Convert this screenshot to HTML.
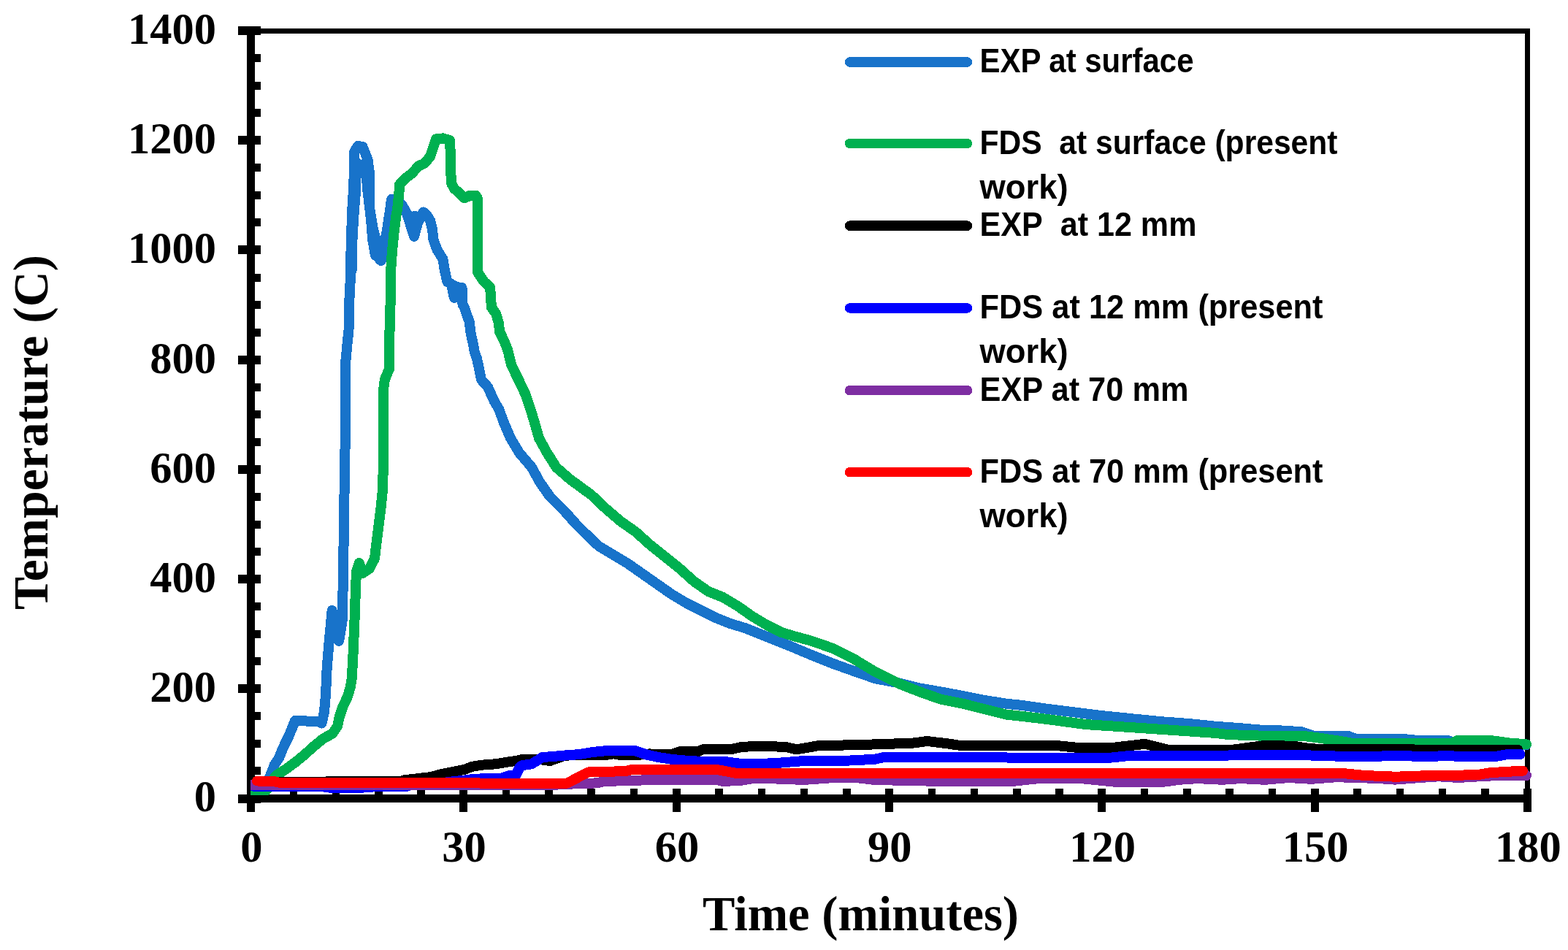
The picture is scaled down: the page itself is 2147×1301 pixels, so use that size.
<!DOCTYPE html>
<html><head><meta charset="utf-8"><title>Temperature vs Time</title>
<style>html,body{margin:0;padding:0;background:#fff;overflow:hidden}svg{display:block}</style>
</head><body>
<svg width="2147" height="1301" viewBox="0 0 2147 1301" shape-rendering="crispEdges">
<defs><clipPath id="pa"><rect x="343" y="0" width="1804" height="1301"/></clipPath></defs>
<rect width="2147" height="1301" fill="#fff"/>
<rect x="343" y="39" width="1752" height="7" fill="#000"/>
<rect x="2088" y="39" width="7" height="1056" fill="#000"/>
<rect x="338" y="36" width="11" height="1063" fill="#000"/>
<rect x="326" y="1088" width="1771" height="11" fill="#000"/>
<rect x="326" y="1087.5" width="31" height="12" fill="#000"/>
<rect x="349" y="1050.4" width="8" height="11" fill="#000"/>
<rect x="349" y="1012.9" width="8" height="11" fill="#000"/>
<rect x="349" y="975.3" width="8" height="11" fill="#000"/>
<rect x="326" y="937.3" width="31" height="12" fill="#000"/>
<rect x="349" y="900.2" width="8" height="11" fill="#000"/>
<rect x="349" y="862.7" width="8" height="11" fill="#000"/>
<rect x="349" y="825.1" width="8" height="11" fill="#000"/>
<rect x="326" y="787.1" width="31" height="12" fill="#000"/>
<rect x="349" y="750.0" width="8" height="11" fill="#000"/>
<rect x="349" y="712.5" width="8" height="11" fill="#000"/>
<rect x="349" y="674.9" width="8" height="11" fill="#000"/>
<rect x="326" y="636.9" width="31" height="12" fill="#000"/>
<rect x="349" y="599.8" width="8" height="11" fill="#000"/>
<rect x="349" y="562.2" width="8" height="11" fill="#000"/>
<rect x="349" y="524.7" width="8" height="11" fill="#000"/>
<rect x="326" y="486.6" width="31" height="12" fill="#000"/>
<rect x="349" y="449.6" width="8" height="11" fill="#000"/>
<rect x="349" y="412.0" width="8" height="11" fill="#000"/>
<rect x="349" y="374.5" width="8" height="11" fill="#000"/>
<rect x="326" y="336.4" width="31" height="12" fill="#000"/>
<rect x="349" y="299.4" width="8" height="11" fill="#000"/>
<rect x="349" y="261.8" width="8" height="11" fill="#000"/>
<rect x="349" y="224.3" width="8" height="11" fill="#000"/>
<rect x="326" y="186.2" width="31" height="12" fill="#000"/>
<rect x="349" y="149.2" width="8" height="11" fill="#000"/>
<rect x="349" y="111.6" width="8" height="11" fill="#000"/>
<rect x="349" y="74.1" width="8" height="11" fill="#000"/>
<rect x="326" y="36.0" width="31" height="12" fill="#000"/>
<rect x="338.0" y="1080" width="11" height="32" fill="#000"/>
<rect x="396.5" y="1080" width="10.5" height="9" fill="#000"/>
<rect x="454.8" y="1080" width="10.5" height="9" fill="#000"/>
<rect x="513.0" y="1080" width="10.5" height="9" fill="#000"/>
<rect x="571.3" y="1080" width="10.5" height="9" fill="#000"/>
<rect x="629.3" y="1080" width="11" height="32" fill="#000"/>
<rect x="687.9" y="1080" width="10.5" height="9" fill="#000"/>
<rect x="746.1" y="1080" width="10.5" height="9" fill="#000"/>
<rect x="804.4" y="1080" width="10.5" height="9" fill="#000"/>
<rect x="862.6" y="1080" width="10.5" height="9" fill="#000"/>
<rect x="920.7" y="1080" width="11" height="32" fill="#000"/>
<rect x="979.2" y="1080" width="10.5" height="9" fill="#000"/>
<rect x="1037.5" y="1080" width="10.5" height="9" fill="#000"/>
<rect x="1095.7" y="1080" width="10.5" height="9" fill="#000"/>
<rect x="1154.0" y="1080" width="10.5" height="9" fill="#000"/>
<rect x="1212.0" y="1080" width="11" height="32" fill="#000"/>
<rect x="1270.5" y="1080" width="10.5" height="9" fill="#000"/>
<rect x="1328.8" y="1080" width="10.5" height="9" fill="#000"/>
<rect x="1387.0" y="1080" width="10.5" height="9" fill="#000"/>
<rect x="1445.3" y="1080" width="10.5" height="9" fill="#000"/>
<rect x="1503.3" y="1080" width="11" height="32" fill="#000"/>
<rect x="1561.8" y="1080" width="10.5" height="9" fill="#000"/>
<rect x="1620.1" y="1080" width="10.5" height="9" fill="#000"/>
<rect x="1678.4" y="1080" width="10.5" height="9" fill="#000"/>
<rect x="1736.7" y="1080" width="10.5" height="9" fill="#000"/>
<rect x="1794.7" y="1080" width="11" height="32" fill="#000"/>
<rect x="1853.2" y="1080" width="10.5" height="9" fill="#000"/>
<rect x="1911.5" y="1080" width="10.5" height="9" fill="#000"/>
<rect x="1969.7" y="1080" width="10.5" height="9" fill="#000"/>
<rect x="2028.0" y="1080" width="10.5" height="9" fill="#000"/>
<rect x="2086.0" y="1080" width="11" height="32" fill="#000"/>
<g clip-path="url(#pa)" fill="none" stroke-linejoin="round" stroke-linecap="round" shape-rendering="crispEdges">
<path d="M343.5 1076.0 L366.0 1072.0 L371.0 1060.0 L376.0 1047.0 L382.0 1038.0 L386.0 1028.0 L390.0 1019.0 L395.0 1009.0 L399.6 998.0 L404.0 987.0 L410.0 987.0 L436.0 988.4 L440.5 990.5 L444.0 974.6 L446.0 951.5 L447.7 914.0 L450.3 883.0 L454.6 836.0 L464.0 878.0 L468.5 852.0 L469.6 806.0 L470.4 760.0 L471.0 700.0 L472.3 640.0 L472.9 570.0 L473.3 495.0 L475.6 470.0 L477.5 452.0 L478.4 410.0 L479.9 380.0 L480.7 334.0 L482.2 288.0 L484.2 257.0 L485.0 226.0 L485.0 208.0 L490.0 200.0 L496.5 201.0 L503.5 218.5 L506.5 241.5 L506.0 266.0 L506.5 288.0 L510.4 311.0 L515.8 334.0 L519.6 355.0 L522.0 357.0 L526.0 335.0 L530.0 315.0 L534.0 288.0 L536.0 273.0 L550.0 280.0 L557.0 292.0 L567.0 324.0 L572.0 305.0 L579.7 290.5 L584.0 294.0 L589.0 302.0 L592.0 314.0 L593.5 328.4 L598.5 342.0 L606.5 355.0 L608.5 368.0 L611.0 380.0 L612.5 386.0 L625.0 393.0 L632.5 394.0 L633.0 407.0 L633.5 417.0 L636.0 421.5 L639.0 430.7 L642.6 440.0 L644.2 453.8 L646.0 463.0 L648.1 472.2 L649.7 481.5 L652.9 490.7 L654.8 499.0 L659.0 520.0 L668.0 530.0 L677.0 550.0 L683.0 560.0 L690.4 580.0 L699.0 600.0 L711.0 620.0 L728.0 640.0 L739.0 660.0 L753.0 680.0 L773.0 700.0 L789.0 718.0 L800.0 729.0 L820.0 748.0 L840.0 760.0 L860.0 772.0 L880.0 786.0 L900.0 800.0 L920.0 814.0 L940.0 826.0 L960.0 836.0 L980.0 846.0 L1000.0 854.0 L1020.0 860.0 L1040.0 868.0 L1060.0 876.0 L1080.0 884.0 L1110.0 896.6 L1140.0 908.6 L1169.0 919.0 L1199.0 929.4 L1229.0 935.0 L1259.0 942.4 L1289.0 947.6 L1318.0 953.0 L1348.0 959.0 L1378.0 963.7 L1400.0 966.0 L1433.0 970.7 L1468.0 975.0 L1504.0 979.6 L1557.0 985.0 L1592.0 988.4 L1628.0 991.0 L1663.0 994.6 L1699.0 997.3 L1730.0 1000.0 L1752.0 1000.3 L1782.0 1002.2 L1799.0 1008.0 L1847.0 1008.3 L1857.0 1012.0 L1925.0 1012.3 L1940.0 1013.8 L1982.0 1013.8 L1988.0 1016.0 L2040.0 1016.0 L2066.0 1019.0 L2090.0 1020.0" stroke="#1873ca" stroke-width="14"/>
<path d="M488 222 L487.5 245 L487 262 L484 300.7 L482.5 328.4 L481.7 370 M501 222 L502 245 L503.5 262 L508 300.7 L510.2 328.4 L514 350 M568 296 L568 316 M619 394 L622 408" stroke="#1873ca" stroke-width="14"/>
<path d="M343.5 1082.0 L365.0 1082.0 L372.0 1070.0 L378.0 1062.0 L392.0 1053.0 L404.6 1043.7 L417.2 1033.4 L430.0 1021.8 L442.6 1011.5 L455.3 1004.6 L462.2 994.2 L464.5 982.7 L469.1 968.8 L476.0 953.8 L480.0 940.0 L481.8 929.0 L483.4 898.5 L485.4 852.0 L487.0 806.0 L488.0 783.0 L491.8 771.0 L496.6 785.0 L505.6 779.0 L513.0 765.0 L515.3 745.0 L518.8 717.0 L521.5 696.0 L523.6 675.0 L524.6 648.0 L524.6 620.0 L525.0 590.0 L525.5 530.0 L526.8 520.0 L533.0 505.0 L533.0 455.0 L534.2 450.0 L534.7 400.0 L535.0 373.0 L536.9 345.0 L539.6 317.6 L542.4 295.0 L544.3 285.0 L546.6 262.0 L547.0 253.0 L548.4 251.0 L555.8 243.8 L564.1 237.3 L573.3 227.2 L581.6 223.5 L589.0 214.3 L593.6 200.4 L597.3 190.3 L606.5 189.4 L615.8 192.1 L616.7 207.0 L617.2 234.6 L618.1 251.2 L622.2 258.5 L629.6 265.0 L636.0 271.4 L643.4 267.8 L651.7 267.8 L654.0 272.0 L654.0 290.0 L654.0 372.8 L662.7 385.8 L671.0 393.0 L672.0 406.0 L672.9 420.8 L679.3 430.0 L683.0 443.0 L684.0 454.0 L690.4 467.0 L695.4 480.0 L700.2 500.0 L710.0 520.0 L719.5 540.0 L726.3 560.0 L732.3 580.0 L738.0 600.0 L749.0 620.0 L761.7 640.0 L780.0 656.0 L810.0 678.0 L830.0 697.0 L850.0 714.0 L870.0 728.0 L890.0 746.0 L910.0 762.0 L930.0 778.0 L950.0 796.0 L970.0 810.0 L990.0 818.0 L1010.0 830.0 L1030.0 844.0 L1050.0 856.0 L1070.0 866.0 L1090.0 872.0 L1109.8 877.3 L1139.6 887.7 L1169.4 902.6 L1199.2 920.5 L1229.0 935.4 L1258.9 947.3 L1288.7 957.8 L1318.5 963.7 L1348.3 971.2 L1378.0 978.6 L1400.0 981.0 L1433.0 984.9 L1486.0 992.0 L1539.0 995.5 L1592.0 999.0 L1645.0 1002.6 L1665.0 1004.0 L1681.0 1006.0 L1734.0 1007.9 L1782.0 1007.6 L1807.5 1010.8 L1842.0 1016.0 L1850.0 1017.7 L1988.0 1017.7 L1995.0 1014.3 L2045.0 1014.5 L2066.0 1017.5 L2090.0 1019.3" stroke="#00b050" stroke-width="14"/>
<path d="M343.5 1071.0 L550.0 1070.0 L552.6 1068.4 L566.6 1066.8 L590.8 1064.0 L603.8 1060.2 L622.5 1056.5 L636.4 1053.7 L645.8 1050.0 L659.7 1047.7 L678.4 1046.3 L692.3 1044.0 L706.3 1042.0 L715.0 1040.0 L739.0 1040.0 L753.0 1042.0 L772.7 1035.0 L784.0 1034.0 L830.0 1034.0 L839.7 1032.2 L849.0 1034.0 L872.0 1034.0 L890.0 1032.4 L898.0 1033.5 L920.0 1033.0 L932.0 1029.0 L957.0 1028.8 L962.0 1026.4 L1000.0 1026.4 L1015.0 1023.0 L1030.0 1022.2 L1040.0 1022.1 L1075.3 1022.7 L1090.4 1026.4 L1120.5 1021.2 L1189.3 1019.8 L1206.0 1018.7 L1244.6 1018.3 L1269.8 1015.0 L1298.3 1018.5 L1311.7 1020.5 L1365.3 1020.7 L1390.0 1021.2 L1450.4 1021.4 L1480.6 1024.4 L1519.2 1024.4 L1567.8 1018.8 L1598.0 1026.5 L1690.0 1026.5 L1715.0 1023.0 L1732.0 1021.0 L1750.0 1021.2 L1773.0 1022.0 L1790.0 1024.6 L1810.0 1026.3 L1937.0 1026.5 L2040.0 1026.5 L2078.0 1026.5" stroke="#000000" stroke-width="14"/>
<path d="M343.5 1076.5 L440.0 1077.0 L454.0 1079.0 L492.0 1079.0 L520.0 1076.8 L557.0 1076.8 L562.0 1075.0 L590.0 1075.0 L613.2 1071.0 L631.8 1069.1 L645.8 1067.2 L669.0 1065.8 L685.8 1065.8 L697.0 1062.1 L706.5 1061.0 L712.0 1050.0 L716.0 1048.0 L728.0 1046.3 L742.9 1037.0 L755.9 1036.1 L774.5 1034.4 L793.2 1033.1 L811.8 1030.0 L835.0 1027.7 L849.0 1027.7 L870.0 1028.3 L886.0 1033.7 L901.0 1036.9 L920.0 1039.9 L936.0 1041.4 L954.0 1042.5 L990.0 1042.5 L1000.0 1044.0 L1015.3 1046.0 L1040.0 1046.0 L1063.5 1045.0 L1097.0 1042.3 L1164.0 1041.5 L1197.7 1039.8 L1211.0 1036.8 L1365.3 1036.8 L1390.0 1038.1 L1519.2 1037.8 L1547.7 1034.8 L1732.0 1034.4 L1781.7 1034.1 L1850.6 1036.2 L1885.0 1036.2 L1902.3 1034.5 L1954.0 1036.2 L1979.9 1035.0 L2005.7 1036.2 L2048.8 1035.8 L2066.0 1032.7 L2081.5 1033.0" stroke="#0000ff" stroke-width="14"/>
<path d="M343.5 1075.0 L600.0 1074.6 L760.5 1074.7 L783.8 1073.5 L816.4 1072.4 L825.8 1070.5 L849.0 1069.2 L900.0 1068.0 L981.8 1067.9 L990.0 1070.0 L1015.3 1068.7 L1035.0 1065.5 L1080.3 1067.1 L1100.4 1068.0 L1147.4 1064.6 L1172.5 1065.0 L1197.7 1068.0 L1273.0 1069.6 L1390.0 1069.6 L1421.9 1066.1 L1480.6 1066.1 L1531.0 1071.2 L1589.6 1071.2 L1614.7 1067.8 L1640.0 1066.1 L1673.4 1067.8 L1698.6 1066.1 L1732.0 1067.8 L1765.0 1065.0 L1795.5 1066.8 L1830.0 1064.2 L1885.0 1065.9 L1910.0 1067.6 L1945.0 1065.0 L1970.0 1063.3 L1997.0 1065.0 L2025.0 1063.3 L2060.0 1061.6 L2090.0 1062.0" stroke="#7e2ea2" stroke-width="14"/>
<path d="M352.0 1069.5 L375.0 1070.0 L385.0 1072.3 L776.4 1072.6 L801.5 1059.4 L807.1 1057.0 L839.7 1056.6 L858.4 1055.6 L864.0 1054.2 L981.8 1054.0 L1007.0 1058.7 L1040.0 1059.0 L1390.0 1058.9 L1740.0 1058.9 L1842.0 1059.3 L1867.9 1062.0 L1911.0 1063.7 L1945.4 1062.5 L2023.0 1061.2 L2040.2 1058.2 L2085.0 1055.6" stroke="#ff0000" stroke-width="14"/>
</g>
<g font-family="'Liberation Serif', serif" font-weight="bold" font-size="60.5" fill="#000">
<text x="296" y="1111.4" text-anchor="end">0</text>
<text x="296" y="961.2" text-anchor="end">200</text>
<text x="296" y="811.0" text-anchor="end">400</text>
<text x="296" y="660.8" text-anchor="end">600</text>
<text x="296" y="510.5" text-anchor="end">800</text>
<text x="296" y="360.3" text-anchor="end">1000</text>
<text x="296" y="210.1" text-anchor="end">1200</text>
<text x="296" y="59.9" text-anchor="end">1400</text>
<text x="344.3" y="1180" text-anchor="middle">0</text>
<text x="635.6" y="1180" text-anchor="middle">30</text>
<text x="927.0" y="1180" text-anchor="middle">60</text>
<text x="1218.3" y="1180" text-anchor="middle">90</text>
<text x="1509.6" y="1180" text-anchor="middle">120</text>
<text x="1801.0" y="1180" text-anchor="middle">150</text>
<text x="2092.3" y="1180" text-anchor="middle">180</text>
</g>
<text x="1178.5" y="1274" text-anchor="middle" font-family="'Liberation Serif', serif" font-weight="bold" font-size="67" textLength="433" lengthAdjust="spacingAndGlyphs">Time (minutes)</text>
<text transform="translate(65 592) rotate(-90)" x="0" y="0" text-anchor="middle" font-family="'Liberation Serif', serif" font-weight="bold" font-size="67.5" textLength="486" lengthAdjust="spacingAndGlyphs">Temperature (C)</text>
<g font-family="'Liberation Sans', sans-serif" font-weight="bold" font-size="46" fill="#000">
<line x1="1163.5" y1="85.0" x2="1324.5" y2="85.0" stroke="#1873ca" stroke-width="13.5" stroke-linecap="round"/>
<text x="1341.5" y="99.2" textLength="293" lengthAdjust="spacingAndGlyphs" xml:space="preserve">EXP at surface</text>
<line x1="1163.5" y1="196.5" x2="1324.5" y2="196.5" stroke="#00b050" stroke-width="13.5" stroke-linecap="round"/>
<text x="1341.5" y="210.7" textLength="490" lengthAdjust="spacingAndGlyphs" xml:space="preserve">FDS  at surface (present</text>
<text x="1341.5" y="271.7" textLength="121" lengthAdjust="spacingAndGlyphs" xml:space="preserve">work)</text>
<line x1="1163.5" y1="309.2" x2="1324.5" y2="309.2" stroke="#000000" stroke-width="13.5" stroke-linecap="round"/>
<text x="1341.5" y="323.4" textLength="297" lengthAdjust="spacingAndGlyphs" xml:space="preserve">EXP  at 12 mm</text>
<line x1="1163.5" y1="421.9" x2="1324.5" y2="421.9" stroke="#0000ff" stroke-width="13.5" stroke-linecap="round"/>
<text x="1341.5" y="436.1" textLength="470" lengthAdjust="spacingAndGlyphs" xml:space="preserve">FDS at 12 mm (present</text>
<text x="1341.5" y="497.1" textLength="121" lengthAdjust="spacingAndGlyphs" xml:space="preserve">work)</text>
<line x1="1163.5" y1="534.6" x2="1324.5" y2="534.6" stroke="#7e2ea2" stroke-width="13.5" stroke-linecap="round"/>
<text x="1341.5" y="548.8" textLength="286" lengthAdjust="spacingAndGlyphs" xml:space="preserve">EXP at 70 mm</text>
<line x1="1163.5" y1="646.6" x2="1324.5" y2="646.6" stroke="#ff0000" stroke-width="13.5" stroke-linecap="round"/>
<text x="1341.5" y="660.8" textLength="470" lengthAdjust="spacingAndGlyphs" xml:space="preserve">FDS at 70 mm (present</text>
<text x="1341.5" y="721.8" textLength="121" lengthAdjust="spacingAndGlyphs" xml:space="preserve">work)</text>
</g>
</svg>
</body></html>
